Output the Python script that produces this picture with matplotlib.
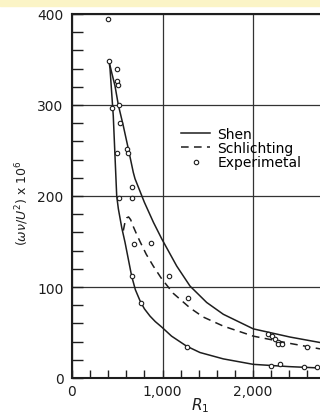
import numpy as np
import matplotlib
matplotlib.use('Agg')
import matplotlib.pyplot as plt
from matplotlib.patches import Rectangle

# values
shen_hi_x = [409, 440, 475, 512, 567, 622, 677, 696, 800, 900, 991, 1157,
             1304, 1488, 1672, 2003, 2409, 2740]
shen_hi_y = [348, 335, 321, 300, 277, 252, 226, 219, 193, 171, 153, 123,
             101, 83, 70, 54, 45, 39]

shen_lo_x = [409, 420, 456, 494, 512, 550, 586, 659, 700, 751, 800, 862,
             920, 991, 1100, 1266, 1414, 1672, 2003, 2400, 2740]
shen_lo_y = [348, 340, 288, 200, 186, 165, 149, 112, 97, 85, 76, 68,
             62, 56, 46, 35, 28, 21, 15, 12.5, 11]

schl_x = [567, 585, 605, 625, 648, 670, 714, 751, 820, 898, 991, 1119,
          1304, 1450, 1672, 2003, 2409, 2740]
schl_y = [162, 171, 176, 177, 174, 168, 158, 150, 136, 123, 109, 93,
          77, 67, 57, 46, 38, 32]

exp_x = [398, 409, 501, 494, 512, 446, 515, 530, 501, 611, 622, 659, 519,
         659, 682, 873, 659, 1076, 762, 1277, 1274, 2160, 2210, 2247, 2273,
         2280, 2320, 2593, 2194, 2298, 2567, 2707]
exp_y = [395, 348, 340, 326, 322, 297, 300, 280, 247, 252, 247, 210, 198,
         198, 147, 148, 112, 112, 82, 88, 34, 48, 46, 43, 40, 37, 37, 34,
         13, 15, 12, 12]

x_ticks = [0, 1000, 2000]
x_tick_labels = ['0', '1,000', '2,000']
y_ticks = [0, 100, 200, 300, 400]
y_tick_labels = ['0', '100', '200', '300', '400']

fig = plt.figure(figsize=(3.2, 4.14), dpi=100)
fig.patches.append(Rectangle((0, 1 - 7 / 414), 1, 7 / 414, color='#fbf4c6',
                             transform=fig.transFigure, zorder=-1))
ax = fig.add_axes([72 / 320, 35 / 414, 248 / 320, 364 / 414])

ink = '#1e1e1e'
ax.plot(shen_hi_x, shen_hi_y, '-', color=ink, lw=1.1, label='Shen')
ax.plot(shen_lo_x, shen_lo_y, '-', color=ink, lw=1.1)
ax.plot(schl_x, schl_y, '--', color=ink, lw=1.1, dashes=(5, 3.5),
        label='Schlichting')
ax.plot(exp_x, exp_y, 'o', ls='none', ms=3.2, mfc='white', mec=ink,
        mew=0.8, label='Experimetal')

ax.set_xlim(0, 2740)
ax.set_ylim(0, 400)
ax.set_xticks(x_ticks)
ax.set_xticklabels(x_tick_labels)
ax.set_yticks(y_ticks)
ax.set_yticklabels(y_tick_labels)
ax.set_xticks(np.arange(0, 2740, 200), minor=True)
ax.set_yticks(np.arange(0, 401, 20), minor=True)
ax.tick_params(axis='both', which='both', direction='in', colors=ink,
               labelsize=10, width=1)
ax.tick_params(axis='x', which='both', length=6, pad=4)
ax.tick_params(axis='y', which='both', length=8, pad=6)
ax.grid(True, which='major', color='#333333', lw=0.9)

for s in ['left', 'bottom', 'top']:
    ax.spines[s].set_linewidth(1.5)
    ax.spines[s].set_color(ink)
ax.spines['right'].set_visible(False)

ax.legend(loc='upper left', bbox_to_anchor=(0.44, 0.69), frameon=False,
          fontsize=10, handlelength=2.1, handletextpad=0.5,
          labelspacing=0.02, borderpad=0, borderaxespad=0)

fig.text(22 / 320, 1 - 203 / 414, r'$(\omega\nu/U^2)$ x 10$^6$',
         rotation=90, ha='center', va='center', fontsize=9, color=ink)
fig.text(200 / 320, 1 - 406 / 414, r'$R_1$', ha='center', va='center',
         fontsize=11, color=ink)

plt.savefig('out.png', dpi=100)
